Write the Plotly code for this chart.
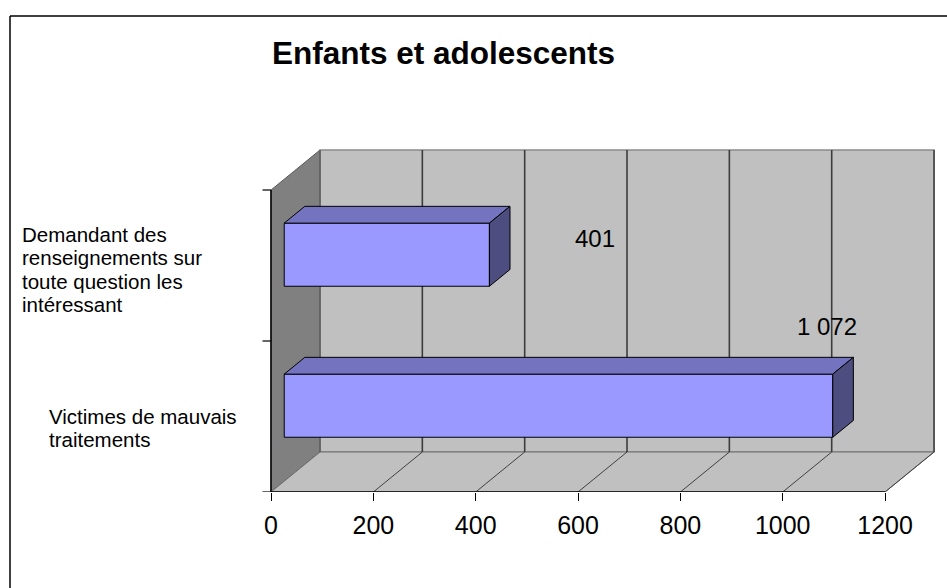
import plotly.graph_objects as go

# ---- data -------------------------------------------------------------
categories = [
    "Victimes de mauvais traitements",
    "Demandant des renseignements sur toute question les intéressant",
]
category_lines = [
    ["Victimes de mauvais", "traitements"],
    ["Demandant des", "renseignements sur", "toute question les", "intéressant"],
]
values = [1072, 401]
value_labels = ["1 072", "401"]
tick_values = [0, 200, 400, 600, 800, 1000, 1200]
title_text = "Enfants et adolescents"

# ---- page / projection geometry ----------------------------------------
W, H = 947, 588
PX_PER_UNIT = 0.5117          # horizontal pixels per value unit
X0_PX = 271                   # pixel column of value 0 on the front plane
FLOOR_PX = 492                # pixel row of the front floor edge
CAT_PX = 151                  # pixels per category slot
DX = 49 / PX_PER_UNIT         # oblique depth offset (value units)
DY = 40 / CAT_PX              # oblique depth offset (category units)
VMAX = tick_values[-1]
CLO, CHI = -0.5, len(categories) - 0.5
BAR_HALF = 0.209              # half bar thickness (category units)
D0, D1 = 0.27, 0.69           # bar depth span (fraction of the wall depth)

FONT = "Arial, Liberation Sans, sans-serif"


def proj(v, c, d):
    """Oblique projection of (value, category, depth) onto the plot plane."""
    return v + d * DX, c + d * DY


def path(points):
    pts = [proj(*p) for p in points]
    return "M " + " L ".join(f"{x},{y}" for x, y in pts) + " Z"


shapes = []

# side wall (left)
shapes.append(dict(type="path", xref="x", yref="y", layer="below",
                   path=path([(0, CLO, 0), (0, CHI, 0), (0, CHI, 1), (0, CLO, 1)]),
                   fillcolor="#808080", line=dict(color="#5a5a5a", width=1)))
# back wall
shapes.append(dict(type="path", xref="x", yref="y", layer="below",
                   path=path([(0, CLO, 1), (0, CHI, 1), (VMAX, CHI, 1), (VMAX, CLO, 1)]),
                   fillcolor="#C0C0C0", line=dict(color="#8a8a8a", width=1.5)))
# floor
shapes.append(dict(type="path", xref="x", yref="y", layer="below",
                   path=path([(0, CLO, 0), (VMAX, CLO, 0), (VMAX, CLO, 1), (0, CLO, 1)]),
                   fillcolor="#C0C0C0", line=dict(color="#6e6e6e", width=1)))

# back-wall gridlines and floor gridlines
for v in tick_values[1:]:
    xb0, yb0 = proj(v, CLO, 1)
    xb1, yb1 = proj(v, CHI, 1)
    shapes.append(dict(type="line", xref="x", yref="y", layer="below",
                       x0=xb0, y0=yb0, x1=xb1, y1=yb1,
                       line=dict(color="#3c3c3c" if v < VMAX else "#454545", width=1.6)))
    xf0, yf0 = proj(v, CLO, 0)
    shapes.append(dict(type="line", xref="x", yref="y", layer="below",
                       x0=xf0, y0=yf0, x1=xb0, y1=yb0,
                       line=dict(color="#404040", width=1)))

# wall corner edge
xa, ya = proj(0, CLO, 1)
xb, yb = proj(0, CHI, 1)
shapes.append(dict(type="line", xref="x", yref="y", layer="below",
                   x0=xa, y0=ya, x1=xb, y1=yb, line=dict(color="#5a5a5a", width=1.5)))

# front axes: value axis edge and category axis with its ticks
tick_len_units = 8.5 / PX_PER_UNIT
shapes.append(dict(type="line", xref="x", yref="y",
                   x0=0, y0=CLO, x1=VMAX, y1=CLO, line=dict(color="black", width=1.5)))
shapes.append(dict(type="line", xref="x", yref="y",
                   x0=0, y0=CLO, x1=0, y1=CHI, line=dict(color="black", width=1.5)))
for k in range(len(categories) + 1):
    shapes.append(dict(type="line", xref="x", yref="y",
                       x0=-tick_len_units, y0=CLO + k, x1=0, y1=CLO + k,
                       line=dict(color="black", width=1.2)))

# outer frame of the chart area
shapes.append(dict(type="line", xref="paper", yref="paper",
                   x0=10 / W, y0=1 - 16 / H, x1=1.01, y1=1 - 16 / H,
                   line=dict(color="black", width=1.5)))
shapes.append(dict(type="line", xref="paper", yref="paper",
                   x0=10 / W, y0=1 - 16 / H, x1=10 / W, y1=-0.01,
                   line=dict(color="black", width=1.5)))

# ---- 3-D bars -----------------------------------------------------------
fig = go.Figure()


def face(points, color):
    pts = [proj(*p) for p in points] + [proj(*points[0])]
    fig.add_trace(go.Scatter(
        x=[p[0] for p in pts], y=[p[1] for p in pts],
        mode="lines", fill="toself", fillcolor=color,
        line=dict(color="black", width=1), hoverinfo="skip", showlegend=False))


for c, v in enumerate(values):
    lo, hi = c - BAR_HALF, c + BAR_HALF
    face([(0, lo, D0), (v, lo, D0), (v, hi, D0), (0, hi, D0)], "#9999FF")   # front
    face([(0, hi, D0), (v, hi, D0), (v, hi, D1), (0, hi, D1)], "#7373BF")   # top
    face([(v, lo, D0), (v, hi, D0), (v, hi, D1), (v, lo, D1)], "#4D4D80")   # side

annotations = []

# value labels
label_offsets = [(14.6, 0.593), (233.0, 0.176)]
for c, (v, txt) in enumerate(zip(values, value_labels)):
    ox, oy = label_offsets[c]
    annotations.append(dict(x=v + ox, y=c + oy, xref="x", yref="y", text=txt,
                            showarrow=False, xanchor="center", yanchor="middle",
                            font=dict(family=FONT, size=24, color="black")))

# category labels, one annotation per line
label_left_px = [47, 20]
label_drop_px = [11.5, 4.0]
LINE_STEP = 23.5
for c, lines in enumerate(category_lines):
    n = len(lines)
    for i, line in enumerate(lines):
        annotations.append(dict(
            x=label_left_px[c] / W, xref="paper", y=c, yref="y",
            yshift=-label_drop_px[c] + ((n - 1) / 2 - i) * LINE_STEP,
            text=line, showarrow=False, xanchor="left", yanchor="middle", align="left",
            font=dict(family=FONT, size=20.5, color="black")))

fig.update_layout(
    width=W, height=H, autosize=False,
    margin=dict(l=0, r=0, t=0, b=0, pad=0),
    paper_bgcolor="white", plot_bgcolor="white",
    showlegend=False,
    title=dict(text=f"<b>{title_text}</b>", x=443.5 / W, xanchor="center",
               y=1 - 53 / H, yanchor="middle",
               font=dict(family=FONT, size=31.5, color="black")),
    xaxis=dict(range=[-X0_PX / PX_PER_UNIT, (W - X0_PX) / PX_PER_UNIT],
               domain=[0, 1], showgrid=False, zeroline=False, showline=False,
               tickmode="array", tickvals=tick_values,
               ticktext=[str(t) for t in tick_values],
               ticks="outside", ticklen=8, tickwidth=1.2, tickcolor="black",
               ticklabelstandoff=3,
               tickfont=dict(family=FONT, size=25, color="black"),
               fixedrange=True),
    yaxis=dict(range=[CLO, CLO + FLOOR_PX / CAT_PX],
               domain=[(H - FLOOR_PX) / H, 1],
               showgrid=False, zeroline=False, showline=False,
               showticklabels=False, ticks="", fixedrange=True),
    shapes=shapes,
    annotations=annotations,
)

fig.write_html("out.html")
